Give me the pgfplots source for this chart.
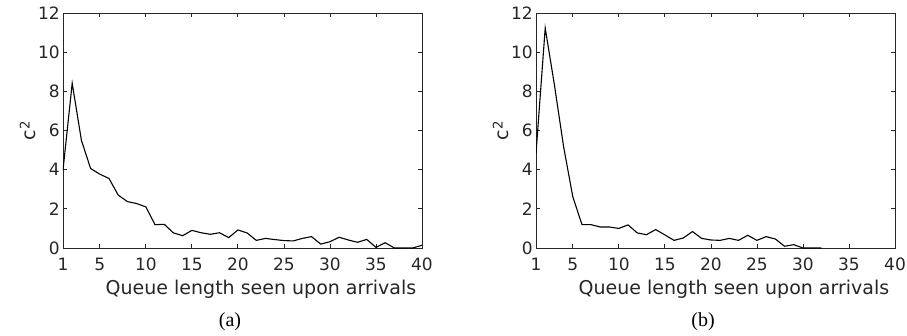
\documentclass[border=0pt]{standalone}
\usepackage{fontspec}
\setmainfont{DejaVu Sans}
\newfontfamily\capfont{Liberation Serif}
\usepackage{pgfplots}
\pgfplotsset{compat=1.18}
\definecolor{axgray}{rgb}{0.15,0.15,0.15}
\pgfplotsset{
  mystyle/.style={
    scale only axis, width=359pt, height=235pt,
    xmin=1, xmax=40, ymin=0, ymax=12,
    xtick={1,5,10,15,20,25,30,35,40},
    ytick={0,2,4,6,8,10,12},
    tick align=inside, major tick length=4pt,
    xtick pos=both, ytick pos=both,
    axis line style={axgray, line width=0.8pt},
    every tick/.style={axgray, line width=0.8pt},
    /pgf/number format/assume math mode=true,
    ticklabel style={font=\fontsize{17}{20}\selectfont, text=axgray},
    yticklabel style={inner sep=0pt, xshift=-3pt},
    xticklabel style={inner sep=0pt, yshift=-10pt},
    xlabel={Queue length seen upon arrivals},
    xlabel style={font=\fontsize{19}{22}\selectfont, text=axgray, at={(axis description cs:0.5515,0)}, anchor=base, yshift=-46pt},
    ylabel={c\textsuperscript{2}},
    ylabel style={font=\fontsize{19}{22}\selectfont, text=axgray, at={(axis description cs:0,0.5)}, anchor=center, yshift=35pt},
  }
}
\begin{document}
\begin{tikzpicture}
\path[use as bounding box] (-63pt,-87pt) rectangle (844pt,248pt);
\begin{axis}[mystyle, name=a, at={(0pt,0pt)}, anchor=south west]
\addplot[black, line width=1.1pt] coordinates {
(1,3.98)(2,8.41)(3,5.5)(4,4.06)(5,3.77)(6,3.55)(7,2.7)(8,2.37)(9,2.27)(10,2.1)
(11,1.19)(12,1.21)(13,0.77)(14,0.63)(15,0.9)(16,0.78)(17,0.7)(18,0.78)(19,0.53)(20,0.92)
(21,0.77)(22,0.39)(23,0.49)(24,0.43)(25,0.38)(26,0.36)(27,0.49)(28,0.58)(29,0.2)(30,0.32)
(31,0.55)(32,0.41)(33,0.29)(34,0.44)(35,0.03)(36,0.27)(37,0)(38,0)(39,0)(40,0.14)};
\end{axis}
\begin{axis}[mystyle, name=b, at={(473pt,0pt)}, anchor=south west]
\addplot[black, line width=1.1pt] coordinates {
(1,4.83)(2,11.23)(3,8.33)(4,5.17)(5,2.61)(6,1.19)(7,1.19)(8,1.07)(9,1.07)(10,1.0)
(11,1.18)(12,0.77)(13,0.68)(14,0.94)(15,0.67)(16,0.39)(17,0.51)(18,0.84)(19,0.49)(20,0.41)
(21,0.39)(22,0.49)(23,0.39)(24,0.65)(25,0.39)(26,0.58)(27,0.46)(28,0.09)(29,0.17)(30,0)
(31,0)(32,0)};
\end{axis}
\node[font=\capfont\fontsize{20}{22}\selectfont] at ([xshift=-12.5pt,yshift=-74pt]a.south) {(a)};
\node[font=\capfont\fontsize{20}{22}\selectfont] at ([xshift=-12.5pt,yshift=-74pt]b.south) {(b)};
\end{tikzpicture}
\end{document}
